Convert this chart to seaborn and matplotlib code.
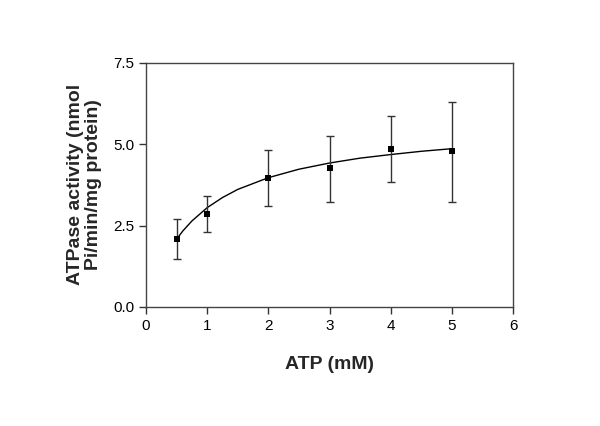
import matplotlib
matplotlib.use("Agg")
import matplotlib.pyplot as plt
import seaborn as sns
import pandas as pd

# Data
atp = [0.5, 1, 2, 3, 4, 5]
activity = [2.08, 2.87, 3.96, 4.28, 4.86, 4.78]
err_upper = [2.69, 3.42, 4.81, 5.26, 5.87, 6.30]
err_lower = [1.46, 2.31, 3.10, 3.22, 3.85, 3.22]

# Fitted curve values
curve_x = [0.5, 0.6, 0.75, 1.0, 1.25, 1.5, 2.0, 2.5, 3.0, 3.5, 4.0, 4.5, 5.0]
curve_y = [2.08, 2.33, 2.64, 3.05, 3.36, 3.61, 3.97, 4.23, 4.42, 4.57, 4.68, 4.78, 4.86]

x_ticks = [0, 1, 2, 3, 4, 5, 6]
y_ticks = [0.0, 2.5, 5.0, 7.5]
y_tick_labels = ["0.0", "2.5", "5.0", "7.5"]

sns.set_theme(style="ticks")
plt.rcParams['font.family'] = ['Liberation Sans', 'DejaVu Sans']

df = pd.DataFrame({"atp": atp, "activity": activity})
cdf = pd.DataFrame({"x": curve_x, "y": curve_y})

fig = plt.figure(figsize=(6.0, 4.26), dpi=100)
ax = fig.add_axes([146/600, 1 - 307/426, (513 - 146)/600, (307 - 62.7)/426])

sns.lineplot(data=cdf, x="x", y="y", ax=ax, color="black", linewidth=1.0)
yerr = [[a - l for a, l in zip(activity, err_lower)],
        [u - a for a, u in zip(activity, err_upper)]]
ax.errorbar(atp, activity, yerr=yerr, fmt="none", ecolor="#333333",
            elinewidth=1.0, capsize=3, capthick=1.0)
sns.scatterplot(data=df, x="atp", y="activity", ax=ax, marker="s", s=18,
                color="black", linewidth=0, zorder=5)

ax.set_xlim(0, 6)
ax.set_ylim(0, 7.5)
ax.set_xticks(x_ticks)
ax.set_yticks(y_ticks)
ax.set_yticklabels(y_tick_labels)
ax.tick_params(direction="out", length=5, width=1, colors="#333333",
               labelsize=11, labelcolor="black")
for s in ax.spines.values():
    s.set_visible(True)
    s.set_color("#444444")
    s.set_linewidth(1.0)

ax.set_xlabel("ATP (mM)", fontsize=14, fontweight="bold", labelpad=17)
ax.set_ylabel("ATPase activity (nmol\nPi/min/mg protein)", fontsize=14,
              fontweight="bold", labelpad=8, linespacing=1.05)

fig.savefig("out.png", dpi=100)
